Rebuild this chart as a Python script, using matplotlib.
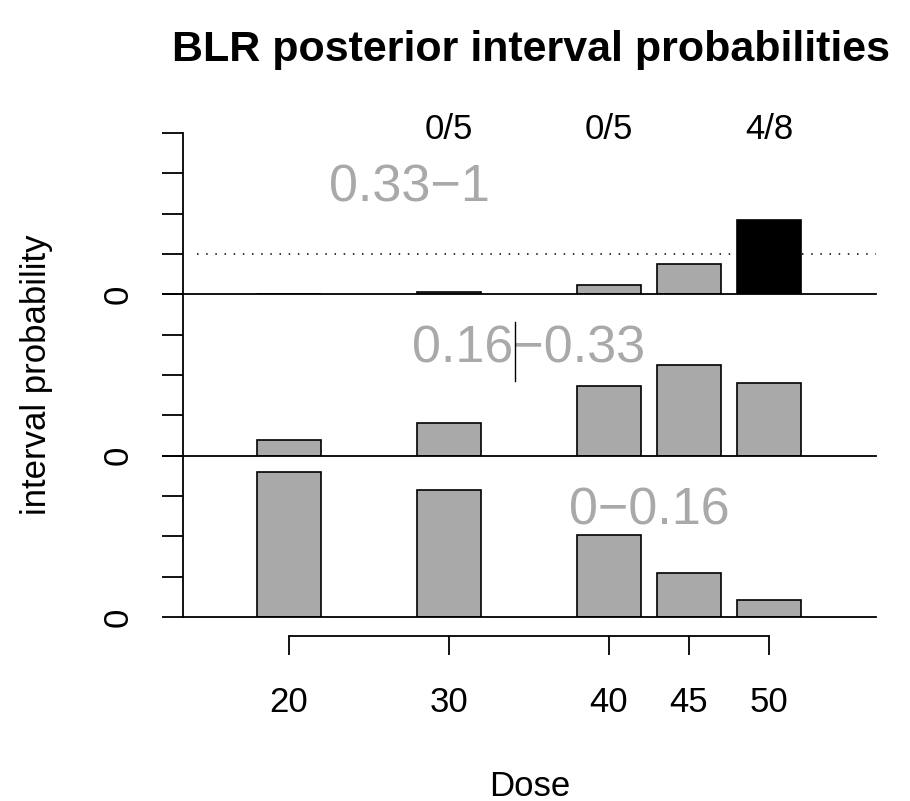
import matplotlib.pyplot as plt
from matplotlib.lines import Line2D

plt.rcParams['font.family'] = ['Liberation Sans', 'DejaVu Sans']

# posterior interval probabilities per dose
doses = [20, 30, 40, 45, 50]
p_high = [0.0, 0.012, 0.06, 0.185, 0.46]   # 0.33-1
p_mid = [0.10, 0.20, 0.43, 0.56, 0.45]     # 0.16-0.33
p_low = [0.90, 0.79, 0.51, 0.27, 0.105]    # 0-0.16
panel_names = ["0.33\u22121", "0.16\u22120.33", "0\u22120.16"]
panel_label_x = [27.5, 35, 42.5]
ewoc = 0.25

# observed DLTs / patients
obs_doses = [30, 40, 50]
obs_text = ["0/5", "0/5", "4/8"]

W, H = 910, 801
fig = plt.figure(figsize=(W / 100, H / 100), dpi=100)

left = 183 / W
width = 693 / W
ph = (617 - 133) / 3 / H
xlim = (13.375, 56.69)
gray = "#a9a9a9"

panels = [p_high, p_mid, p_low]
axes = []
for i, vals in enumerate(panels):
    bottom = 1 - (133 + (i + 1) * (617 - 133) / 3) / H
    ax = fig.add_axes([left, bottom, width, ph])
    axes.append(ax)
    if i == 0:
        colors = ["black" if v > ewoc else gray for v in vals]
    else:
        colors = gray
    ax.bar(doses, vals, width=4, color=colors, edgecolor="black", linewidth=1.2,
           zorder=2)
    ax.set_xlim(*xlim)
    ax.set_ylim(0, 1)
    for s in ["top", "right"]:
        ax.spines[s].set_visible(False)
    ax.spines["left"].set_linewidth(1.3)
    ax.spines["bottom"].set_linewidth(1.3)
    ax.spines["bottom"].set_zorder(3)
    ax.set_xticks([])
    ax.set_yticks([0, 0.25, 0.5, 0.75, 1])
    ax.set_yticklabels(["0", "", "", "", ""], rotation=90, va="center")
    ax.tick_params(axis="y", length=15, width=1.3, pad=20, labelsize=25)
    ax.text(panel_label_x[i], 0.66, panel_names[i], color=gray, fontsize=37.5,
            ha="center", va="center")
    ax.patch.set_visible(False)

axes[0].axhline(ewoc, xmin=0.02, color="black", linestyle=(0, (1, 5)),
                linewidth=1.1, zorder=1)
for d, t in zip(obs_doses, obs_text):
    axes[0].text(d, 1.02, t, ha="center", va="center", fontsize=25,
                 clip_on=False)

# separate dose axis below the panels
axx = fig.add_axes([left, 1 - 636 / H, width, 0.001])
axx.set_xlim(*xlim)
for s in ["top", "right", "left"]:
    axx.spines[s].set_visible(False)
axx.spines["bottom"].set_bounds(doses[0], doses[-1])
axx.spines["bottom"].set_linewidth(1.3)
axx.set_yticks([])
axx.set_xticks(doses)
axx.set_xticklabels([str(d) for d in doses])
axx.tick_params(axis="x", length=14, width=1.3, pad=22, labelsize=25)
axx.patch.set_visible(False)

fig.text(531 / W, 1 - 50 / H, "BLR posterior interval probabilities",
         ha="center", va="center", fontsize=31, fontweight="bold")
fig.text(529.5 / W, 1 - 786 / H, "Dose", ha="center", va="center", fontsize=25)
fig.text(37 / W, 1 - 375 / H, "interval probability", ha="center", va="center",
         rotation=90, fontsize=25)

# cursor mark visible in the original screenshot
fig.add_artist(Line2D([515 / W, 515 / W], [1 - 322 / H, 1 - 381 / H],
                      color="black", linewidth=1))

fig.savefig("out.png", dpi=100)
